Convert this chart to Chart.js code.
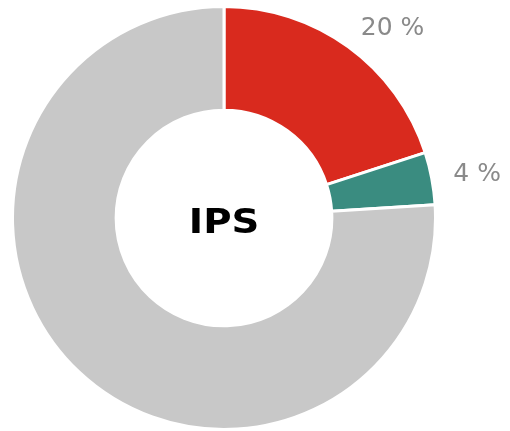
<!DOCTYPE html>
<html>
<head>
<meta charset="utf-8">
<script src="https://cdn.jsdelivr.net/npm/chart.js@4/dist/chart.umd.min.js"></script>
<style>
html,body{margin:0;padding:0;background:#fff;}
#wrap{width:510px;height:431px;position:relative;}
</style>
</head>
<body>
<div id="wrap"><canvas id="c" width="510" height="431"></canvas></div>
<script>
const categories = ["A", "B", "Autres"];
const values = [20, 4, 76];
const labelTexts = ["20 %", "4 %", ""];
const centerTitle = "IPS";
const colors = ["rgb(217,42,30)", "rgb(58,140,128)", "rgb(200,200,200)"];

const sliceLabels = {
  id: 'sliceLabels',
  afterDatasetsDraw(chart) {
    const ctx = chart.ctx;
    const meta = chart.getDatasetMeta(0);
    ctx.save();
    ctx.font = '25px "DejaVu Sans"';
    ctx.fillStyle = '#8a8a8a';
    ctx.textAlign = 'left';
    ctx.textBaseline = 'middle';
    meta.data.forEach((arc, i) => {
      const t = labelTexts[i];
      if (!t) return;
      const p = arc.getProps(['x','y','startAngle','endAngle','outerRadius'], true);
      const a = (p.startAngle + p.endAngle) / 2;
      const r = p.outerRadius + 23;
      ctx.fillText(t, p.x + Math.cos(a) * r - 1, p.y + Math.sin(a) * r);
    });
    // center text
    const a0 = meta.data[0];
    ctx.translate(a0.x, a0.y + 6);
    ctx.scale(1.17, 1);
    ctx.font = 'bold 33px "DejaVu Sans"';
    ctx.fillStyle = '#000';
    ctx.textAlign = 'center';
    ctx.fillText(centerTitle, 0, 0);
    ctx.restore();
  }
};

new Chart(document.getElementById('c'), {
  type: 'doughnut',
  data: {
    labels: categories,
    datasets: [{
      data: values,
      backgroundColor: colors,
      borderColor: '#ffffff',
      borderWidth: 3,
      hoverOffset: 0
    }]
  },
  options: {
    responsive: false,
    animation: false,
    cutout: '51%',
    layout: { padding: { left: 10, right: 72, top: 5, bottom: -2 } },
    plugins: { legend: { display: false }, tooltip: { enabled: false } }
  },
  plugins: [sliceLabels]
});
</script>
</body>
</html>
